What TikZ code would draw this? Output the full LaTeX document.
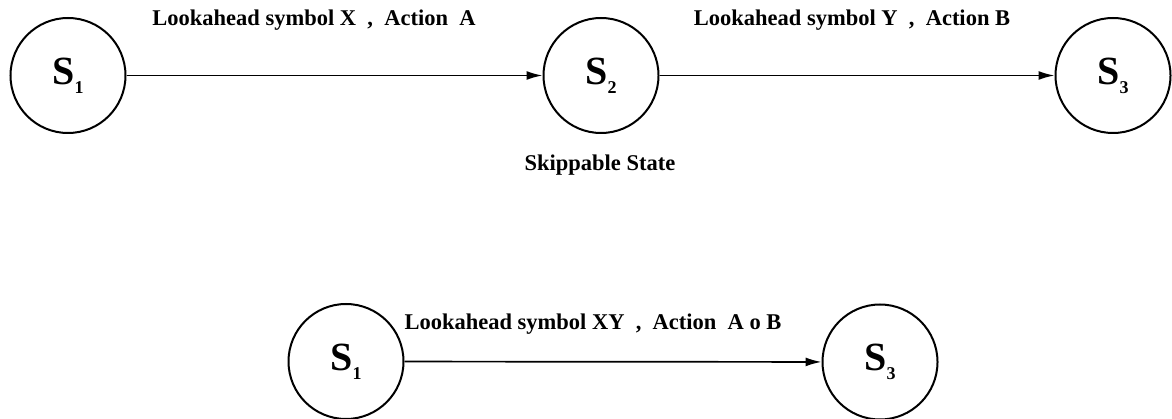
\documentclass[tikz,border=0pt]{standalone}
\usepackage{fontspec}
\setmainfont{Liberation Serif}
\usetikzlibrary{arrows.meta}

% state label: large S with a low, small index
\newcommand{\stname}[1]{S\raisebox{-9pt}{\fontsize{18}{18}\selectfont #1}}

\begin{document}
\begin{tikzpicture}[x=1pt,y=-1pt,
  state/.style={circle,draw,line width=2pt,minimum size=115pt,inner sep=0pt,
    font=\fontsize{40}{40}\selectfont\bfseries},
  trans/.style={line width=1.7pt,-{Latex[length=16pt,width=9pt]}},
  lbl/.style={font=\fontsize{22.5}{22.5}\selectfont\bfseries,inner sep=0pt}]
\useasboundingbox (0,0) rectangle (1172,419);

% upper chain S1 -> S2 -> S3
\node[state] (a1) at (68,75.5) {\stname{1}};
\node[state] (a2) at (601,75.5) {\stname{2}};
\node[state] (a3) at (1113,75.5) {\stname{3}};
\draw[trans] (a1) -- (a2);
\draw[trans] (a2) -- (a3);
\node[lbl] (l1) at (314,20) {Lookahead symbol X~~,~~Action~~A};
\node[lbl] (l2) at (852,20) {Lookahead symbol Y~~,~~Action B};
\node[lbl] (skip) at (600,165) {Skippable State};

% merged transition S1 -> S3
\node[state] (b1) at (346,361.5) {\stname{1}};
\node[state] (b3) at (880,362) {\stname{3}};
\draw[trans] (b1) -- (b3);
\node[lbl] (l3) at (593,324) {Lookahead symbol XY~~,~~Action~~A~o~B};
\end{tikzpicture}
\end{document}
